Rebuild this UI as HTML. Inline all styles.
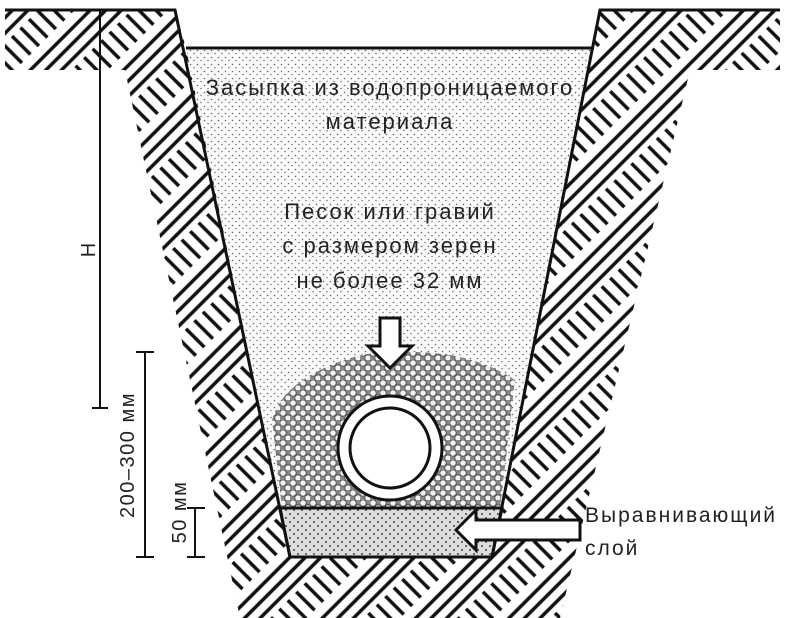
<!DOCTYPE html><html><head><style>body{margin:0;background:#fff}svg{display:block}text{font-family:"Liberation Sans",sans-serif;fill:#222}</style></head><body>
<svg width="800" height="618" viewBox="0 0 800 618" xmlns="http://www.w3.org/2000/svg">
<defs>
<pattern id="h" width="66" height="48" patternUnits="userSpaceOnUse" patternTransform="rotate(45)">
<rect width="66" height="48" fill="#fff"/>
<g stroke="#111" stroke-width="3.5">
<line x1="5" y1="0" x2="5" y2="48"/><line x1="16" y1="0" x2="16" y2="48"/><line x1="27" y1="0" x2="27" y2="48"/>
<line x1="34" y1="5" x2="60" y2="5"/><line x1="34" y1="17" x2="60" y2="17"/><line x1="34" y1="29" x2="60" y2="29"/><line x1="34" y1="41" x2="60" y2="41"/>
</g></pattern>
<pattern id="s" width="7" height="7" patternUnits="userSpaceOnUse"><rect width="7" height="7" fill="#fafafa"/><circle cx="1.5" cy="1.5" r="0.8" fill="#666"/><circle cx="5" cy="4.5" r="0.8" fill="#777"/></pattern>
<pattern id="g" width="10" height="10" patternUnits="userSpaceOnUse"><rect width="10" height="10" fill="#888"/><circle cx="3" cy="3" r="3.2" fill="#f2f2f2" stroke="#444" stroke-width="0.8"/><circle cx="8" cy="8" r="3.2" fill="#f2f2f2" stroke="#444" stroke-width="0.8"/></pattern>
<pattern id="l" width="8" height="8" patternUnits="userSpaceOnUse"><rect width="8" height="8" fill="#ddd"/><circle cx="2" cy="2" r="1" fill="#444"/><circle cx="6" cy="6" r="1" fill="#444"/></pattern>
</defs>
<rect x="5" y="10" width="775" height="608" fill="url(#h)"/>
<path d="M0,70 L125,70 L240,618 L0,618 Z M690,70 L800,70 L800,618 L560,618 Z" fill="#fff"/>
<path d="M175,10 L600,10 L594,48 L186,48 Z" fill="#fff"/>
<path d="M186,48 L594,48 L492,557 L290,557 Z" fill="url(#s)"/>
<path d="M272,420 Q280,390 320,370 Q360,350 400,352 Q470,350 515,380 L500,508 L282,508 Z" fill="url(#g)"/>
<path d="M280,508 L502,508 L492,557 L290,557 Z" fill="url(#l)" stroke="#111" stroke-width="3"/>
<path d="M5,10 L175,10 L290,557 L492,557 L600,10 L780,10" fill="none" stroke="#111" stroke-width="3"/>
<line x1="186" y1="48" x2="594" y2="48" stroke="#111" stroke-width="3"/>
<circle cx="390" cy="448" r="52" fill="#fff" stroke="#111" stroke-width="3"/>
<circle cx="390" cy="448" r="40" fill="#fff" stroke="#111" stroke-width="3"/>
<path d="M380,318 L400,318 L400,346 L412,346 L390,368 L368,346 L380,346 Z" fill="#fff" stroke="#111" stroke-width="3"/>
<path d="M456,530 L476,510 L476,520 L580,520 L580,540 L476,540 L476,550 Z" fill="#fff" stroke="#111" stroke-width="3"/>
<g stroke="#111" stroke-width="2">
<line x1="100" y1="10" x2="100" y2="408"/><line x1="92" y1="408" x2="108" y2="408"/>
<line x1="145" y1="352" x2="145" y2="557"/><line x1="136" y1="352" x2="154" y2="352"/><line x1="136" y1="557" x2="154" y2="557"/>
<line x1="195" y1="508" x2="195" y2="557"/><line x1="187" y1="508" x2="205" y2="508"/><line x1="187" y1="557" x2="205" y2="557"/>
</g>
<text x="95" y="250" font-size="20" transform="rotate(-90 95 250)" text-anchor="middle">H</text>
<text x="134" y="455" font-size="20" letter-spacing="1.5" transform="rotate(-90 134 455)" text-anchor="middle">200–300 мм</text>
<text x="186" y="512" font-size="20" letter-spacing="1.5" transform="rotate(-90 186 512)" text-anchor="middle">50 мм</text>
<g font-size="22" text-anchor="middle" letter-spacing="2">
<text x="390" y="95">Засыпка из водопроницаемого</text>
<text x="390" y="129">материала</text>
<text x="390" y="219">Песок или гравий</text>
<text x="390" y="253">с размером зерен</text>
<text x="390" y="288">не более 32 мм</text>
</g>
<text x="585" y="522" font-size="21" letter-spacing="2">Выравнивающий</text>
<text x="585" y="555" font-size="21" letter-spacing="2">слой</text>
</svg></body></html>
